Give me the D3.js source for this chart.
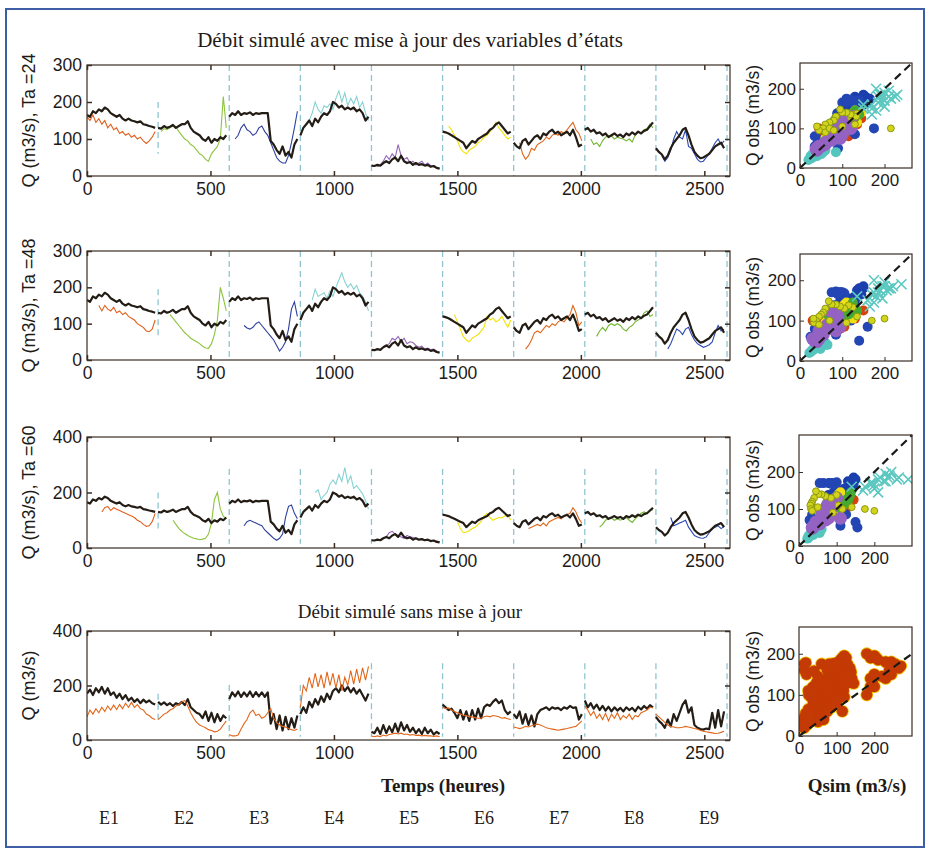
<!DOCTYPE html>
<html>
<head>
<meta charset="utf-8">
<script src="https://cdn.jsdelivr.net/npm/d3@7/dist/d3.min.js"></script>
<style>
  body { margin: 0; background: #fff; }
  svg text { fill: #1e1a16; }
</style>
</head>
<body>
<script>
// --- données : pas de 12 h, 9 épisodes de 288 h (24 valeurs chacun) ---
const eventNames = ["E1", "E2", "E3", "E4", "E5", "E6", "E7", "E8", "E9"];
const stepHours = 12;
const eventLength = 288;
const xTicks = [0, 500, 1000, 1500, 2000, 2500];

// débit observé (trait noir, graphes 1 à 3)
const obsQ = [
  165,160,175,170,180,175,185,180,170,165,160,165,155,150,155,150,148,145,148,140,138,135,133,130,
  130,128,135,130,133,138,130,135,140,140,148,130,120,115,110,100,95,105,90,100,95,105,100,110,
  160,170,165,175,165,170,168,172,165,170,168,170,170,170,95,85,70,60,80,55,65,50,85,100,
  110,130,140,150,135,155,145,160,170,165,175,200,195,185,190,180,185,180,185,175,180,170,150,160,
  28,27,30,28,35,40,35,45,50,40,55,40,35,38,30,35,30,32,28,30,25,27,22,20,
  120,118,115,110,105,100,95,90,75,85,95,90,100,105,110,115,125,130,140,145,135,125,115,120,
  90,80,75,95,100,85,95,105,110,100,115,110,120,125,115,120,110,115,120,110,125,105,80,85,
  125,130,120,125,115,118,110,115,105,110,115,108,112,105,115,110,118,112,120,115,122,125,135,145,
  75,65,58,45,55,75,90,100,110,125,130,110,85,65,55,48,50,55,60,70,80,85,90,75
];

// débit simulé avec mise à jour, Ta = 24 h
const sim24 = [
  160,150,165,145,155,140,150,130,140,125,130,115,120,110,115,105,110,100,105,95,88,95,105,120,
  null,120,128,125,130,135,133,120,110,100,95,85,80,70,60,55,45,40,60,70,80,100,215,130,
  null,null,100,110,130,140,125,120,110,115,130,135,120,110,90,70,50,40,35,35,55,90,130,175,
  null,null,null,150,170,200,180,170,190,185,195,180,210,230,200,225,190,210,195,215,185,200,170,150,
  null,null,25,30,40,55,45,60,50,85,55,45,50,35,40,30,35,40,30,35,28,25,22,20,
  null,null,135,125,110,95,75,65,60,70,75,80,90,95,105,110,120,130,145,130,120,110,100,105,
  null,null,90,60,45,55,75,70,85,90,95,105,100,110,115,110,120,115,125,135,145,125,115,95,
  null,null,100,85,90,80,95,105,110,108,100,105,102,100,95,100,92,110,120,115,125,128,140,130,
  null,null,55,40,50,70,100,120,105,100,125,80,75,60,45,38,40,50,60,75,90,100,85,95
];

// débit simulé avec mise à jour, Ta = 48 h
const sim48 = [
  null,null,null,null,150,135,150,140,135,145,130,135,125,130,120,115,110,100,95,90,80,78,85,110,
  null,null,null,null,125,115,105,95,85,75,68,60,55,50,45,38,33,32,45,70,110,200,170,135,
  null,null,null,null,null,95,88,85,90,100,105,95,85,75,65,55,40,25,35,50,85,140,160,120,
  null,null,null,null,165,195,175,180,185,170,190,175,200,220,240,215,200,210,195,205,185,175,160,135,
  null,null,null,null,35,40,45,60,55,65,50,60,45,50,48,40,35,38,30,33,28,30,25,22,
  null,null,null,null,125,105,85,65,55,50,60,65,70,80,90,120,110,115,105,110,120,105,90,110,
  null,null,null,null,30,40,55,75,80,75,85,95,90,100,95,105,110,105,115,125,150,130,95,105,
  null,null,null,null,65,80,90,80,95,100,95,100,95,85,80,90,95,105,110,115,130,135,120,125,
  null,null,null,null,30,45,65,85,80,70,85,90,70,55,45,40,35,38,42,50,75,95,80,85
];

// débit simulé avec mise à jour, Ta = 60 h
const sim60 = [
  null,null,null,null,null,130,145,150,135,145,140,135,130,125,120,115,110,100,95,85,78,80,95,125,
  null,null,null,null,null,100,85,70,60,52,45,40,35,33,30,32,35,50,90,175,200,140,115,105,
  null,null,null,null,null,80,95,100,95,90,85,80,65,55,45,35,28,35,50,110,150,155,125,105,
  null,null,null,null,null,200,210,175,190,200,230,245,230,265,240,290,235,260,215,225,210,195,170,140,
  null,null,null,null,null,40,55,60,50,45,40,35,45,40,38,35,30,32,28,30,27,25,25,22,
  null,null,null,null,null,95,70,55,58,62,70,75,85,95,115,125,110,100,105,110,108,115,120,100,
  null,null,null,null,null,70,75,80,85,80,90,80,95,100,105,110,105,115,120,125,145,130,105,90,
  null,null,null,null,null,75,85,100,105,108,100,105,100,105,110,100,92,105,115,125,130,125,135,138,
  null,null,null,null,null,110,80,85,90,95,100,75,60,45,40,36,35,40,55,70,75,80,70,78
];

// graphe 4 : trait noir et débit simulé sans mise à jour (orange)
const obsQ4 = [
  170,185,165,190,175,195,170,190,165,175,155,170,150,165,145,155,140,150,135,148,138,145,135,130,
  140,130,138,128,135,125,135,130,140,128,150,120,110,100,95,80,105,70,100,65,95,70,90,80,
  150,175,160,178,158,175,160,178,158,176,160,175,158,175,60,95,40,90,35,85,40,80,45,90,
  95,120,100,140,120,150,130,160,140,170,150,180,190,175,200,180,195,175,190,170,185,165,145,170,
  30,25,45,22,55,25,50,28,60,30,65,35,55,30,45,25,40,22,45,25,38,20,30,22,
  130,120,110,115,100,80,110,75,105,70,110,75,115,80,120,130,125,140,150,135,145,110,95,105,
  95,80,105,60,95,55,90,50,95,110,115,120,110,120,115,118,110,120,115,125,118,120,75,95,
  145,120,135,115,130,110,125,108,122,105,120,108,118,105,120,110,118,105,122,112,125,115,128,120,
  85,70,60,45,75,50,95,70,100,130,145,100,120,55,45,40,38,42,40,100,45,110,50,105
];
const simNoUpdate = [
  85,110,95,115,100,120,105,125,110,128,112,130,115,135,120,138,120,130,115,110,95,90,80,75,
  75,85,95,100,110,115,125,130,140,145,125,100,80,65,55,50,45,38,35,30,32,40,55,70,
  20,15,15,18,40,60,75,100,110,90,95,80,85,100,115,80,65,55,50,48,42,38,35,40,
  120,200,180,230,190,245,195,240,190,250,200,245,190,240,180,230,200,255,205,260,210,265,220,270,
  15,12,15,12,18,15,20,22,25,22,25,20,22,18,20,17,18,15,17,15,15,13,15,12,
  120,115,118,110,105,100,95,92,90,85,85,82,80,80,85,88,85,90,88,85,80,82,78,75,
  48,45,42,45,50,48,52,55,58,55,50,45,42,40,38,36,38,40,42,45,48,50,60,70,
  125,110,90,105,80,95,75,98,70,95,80,100,75,90,80,95,75,90,85,100,105,110,120,118,
  95,85,75,65,55,50,48,45,45,47,50,48,45,42,40,35,32,30,28,26,24,25,28,32
];

// couleurs par épisode (séries temporelles et nuages de points)
const lineColors = ["#e2601e", "#8cc43c", "#2f3f9e", "#86d2d2", "#9466ba", "#f2e200", "#e0661c", "#72b832", "#2a48b6"];
const dotColors  = ["#1c3fae", "#d2d41c", "#2446b4", "#5cc8c0", "#54c6be", "#f0e010", "#d8420e", "#44aa30", "#9462c2"];
const dotRadius  = [5, 3.4, 5, 5, 5, 5, 5, 5, 6.5];
const drawOrder  = [6, 0, 2, 5, 7, 4, 8, 1, 3];

// --- mise en page ---
const W = 931, H = 851;
const svg = d3.select("body").append("svg").attr("width", W).attr("height", H);
const sans = "'Liberation Sans', Arial, Helvetica, sans-serif";
const serif = "'Liberation Serif', 'Times New Roman', serif";

svg.append("rect").attr("x", 6).attr("y", 9).attr("width", 918).attr("height", 838)
  .attr("fill", "none").attr("stroke", "#3d5ea6").attr("stroke-width", 2);

const x = d3.scaleLinear().domain([0, 2604]).range([87, 730]);

const panels = [
  { top: 65,  bot: 176, ymax: 300, yt: [0, 100, 200, 300], label: "Q (m3/s), Ta =24", obs: obsQ,  sim: sim24,
    dash: [[60, 200], [0, 300], [0, 300], [0, 300], [0, 300], [0, 300], [0, 300], [0, 300], [0, 300]] },
  { top: 251, bot: 360, ymax: 300, yt: [0, 100, 200, 300], label: "Q (m3/s), Ta =48", obs: obsQ,  sim: sim48,
    dash: [[60, 195], [0, 300], [0, 300], [0, 300], [0, 300], [0, 300], [0, 300], [0, 300], [0, 300]] },
  { top: 437, bot: 548, ymax: 400, yt: [0, 200, 400], label: "Q (m3/s), Ta =60", obs: obsQ,  sim: sim60,
    dash: [[67, 200], [15, 285], [15, 285], [15, 285], [15, 285], [15, 285], [15, 285], [15, 285], [15, 285]] },
  { top: 631, bot: 740, ymax: 400, yt: [0, 200, 400], label: "Q (m3/s)", obs: obsQ4, sim: simNoUpdate,
    dash: [[61, 170], [12, 202], [12, 202], [12, 282], [12, 282], [12, 282], [12, 282], [12, 282], [12, 282]] }
];

const scatters = [
  { x0: 800, x1: 912, y0: 63,  y1: 168, xmax: 265, ymax: 265, diag: [265, 265] },
  { x0: 800, x1: 912, y0: 254, y1: 361, xmax: 265, ymax: 265, diag: [265, 265] },
  { x0: 799, x1: 912, y0: 435, y1: 546, xmax: 300, ymax: 300, diag: [300, 300] },
  { x0: 799, x1: 912, y0: 627, y1: 736, xmax: 300, ymax: 265, diag: [300, 200] }
];

function eventPoints(arr, k) {
  return arr.slice(k * 24, k * 24 + 24).map((v, i) => ({ t: k * eventLength + i * stepHours, v: v }));
}

panels.forEach((p, pi) => {
  const y = d3.scaleLinear().domain([0, p.ymax]).range([p.bot, p.top]);
  const g = svg.append("g");
  const clipId = "clip" + pi;
  svg.append("clipPath").attr("id", clipId).append("rect")
    .attr("x", 87).attr("y", p.top).attr("width", 643).attr("height", p.bot - p.top);

  // limites des épisodes
  g.selectAll("line.ev").data(d3.range(1, 10)).join("line")
    .attr("x1", k => x(k * eventLength)).attr("x2", k => x(k * eventLength))
    .attr("y1", k => y(p.dash[k - 1][1])).attr("y2", k => y(p.dash[k - 1][0]))
    .attr("stroke", "#8fc4d0").attr("stroke-width", 1.3).attr("stroke-dasharray", "6,4");

  const line = d3.line().defined(d => d.v != null).x(d => x(d.t)).y(d => y(d.v));
  const lines = g.append("g").attr("clip-path", `url(#${clipId})`);

  // série simulée en couleur, puis série noire
  if (pi < 3) {
    eventNames.forEach((e, k) => {
      lines.append("path").attr("d", line(eventPoints(p.sim, k)))
        .attr("fill", "none").attr("stroke", lineColors[k]).attr("stroke-width", 1.1);
    });
  }
  eventNames.forEach((e, k) => {
    lines.append("path").attr("d", line(eventPoints(p.obs, k)))
      .attr("fill", "none").attr("stroke", "#241d16").attr("stroke-width", 2.2).attr("stroke-linejoin", "round");
  });
  if (pi === 3) {
    eventNames.forEach((e, k) => {
      lines.append("path").attr("d", line(eventPoints(p.sim, k)))
        .attr("fill", "none").attr("stroke", "#e2661a").attr("stroke-width", 1.1);
    });
  }

  // cadre et graduations (style MATLAB, vers l'intérieur)
  g.append("rect").attr("x", 87).attr("y", p.top).attr("width", 643).attr("height", p.bot - p.top)
    .attr("fill", "none").attr("stroke", "#3a2e24").attr("stroke-width", 1.2);
  const gb = g.append("g").attr("transform", `translate(0,${p.bot})`)
    .call(d3.axisBottom(x).tickValues(xTicks).tickSize(-5).tickPadding(7).tickFormat(d3.format("d")));
  const gt = g.append("g").attr("transform", `translate(0,${p.top})`)
    .call(d3.axisTop(x).tickValues(xTicks).tickSize(-5).tickFormat(""));
  const gl = g.append("g").attr("transform", "translate(87,0)")
    .call(d3.axisLeft(y).tickValues(p.yt).tickSize(-5).tickPadding(5));
  const gr = g.append("g").attr("transform", "translate(730,0)")
    .call(d3.axisRight(y).tickValues(p.yt).tickSize(-5).tickFormat(""));
  [gb, gt, gl, gr].forEach(a => {
    a.select(".domain").remove();
    a.selectAll(".tick line").attr("stroke", "#3a2e24").attr("stroke-width", 1.5);
    a.selectAll("text").attr("font-family", sans).attr("font-size", 17.5).attr("fill", "#1e1a16");
  });
  g.append("text").attr("transform", `translate(35,${(p.top + p.bot) / 2}) rotate(-90)`)
    .attr("text-anchor", "middle").attr("font-family", sans).attr("font-size", 18).text(p.label);
});

// --- nuages de points Qsim / Qobs ---
scatters.forEach((s, si) => {
  const p = panels[si];
  const sx = d3.scaleLinear().domain([0, s.xmax]).range([s.x0, s.x1]);
  const sy = d3.scaleLinear().domain([0, s.ymax]).range([s.y1, s.y0]);
  const g = svg.append("g");
  const clipId = "sclip" + si;
  svg.append("clipPath").attr("id", clipId).append("rect")
    .attr("x", s.x0).attr("y", s.y0).attr("width", s.x1 - s.x0).attr("height", s.y1 - s.y0);
  const pts = g.append("g").attr("clip-path", `url(#${clipId})`);

  const pairs = [];
  p.sim.forEach((v, i) => {
    if (v != null && p.obs[i] != null) pairs.push({ k: Math.floor(i / 24), qs: v, qo: p.obs[i] });
  });

  if (si < 3) {
    drawOrder.forEach(k => {
      const sel = pairs.filter(d => d.k === k);
      const r = dotRadius[k];
      if (k === 3) {
        pts.selectAll(null).data(sel).join("path")
          .attr("d", d => `M${sx(d.qs) - r},${sy(d.qo) - r}L${sx(d.qs) + r},${sy(d.qo) + r}M${sx(d.qs) - r},${sy(d.qo) + r}L${sx(d.qs) + r},${sy(d.qo) - r}`)
          .attr("stroke", dotColors[k]).attr("stroke-width", 1.6).attr("fill", "none");
      } else if (k === 1) {
        pts.selectAll(null).data(sel).join("circle")
          .attr("cx", d => sx(d.qs)).attr("cy", d => sy(d.qo)).attr("r", r)
          .attr("fill", dotColors[k]).attr("stroke", "#8e9a12").attr("stroke-width", 1);
      } else {
        pts.selectAll(null).data(sel).join("circle")
          .attr("cx", d => sx(d.qs)).attr("cy", d => sy(d.qo)).attr("r", r)
          .attr("fill", dotColors[k]);
      }
    });
  } else {
    pts.selectAll(null).data(pairs).join("circle")
      .attr("cx", d => sx(d.qs)).attr("cy", d => sy(d.qo)).attr("r", 6.4)
      .attr("fill", "#f2c400");
    pts.selectAll(null).data(pairs).join("circle")
      .attr("cx", d => sx(d.qs)).attr("cy", d => sy(d.qo)).attr("r", 5.6)
      .attr("fill", "#c43a04");
  }

  // diagonale
  g.append("line").attr("x1", sx(0)).attr("y1", sy(0)).attr("x2", sx(s.diag[0])).attr("y2", sy(s.diag[1]))
    .attr("stroke", "#1a1a1a").attr("stroke-width", 2.2).attr("stroke-dasharray", "8,5");

  g.append("rect").attr("x", s.x0).attr("y", s.y0).attr("width", s.x1 - s.x0).attr("height", s.y1 - s.y0)
    .attr("fill", "none").attr("stroke", "#3a2e24").attr("stroke-width", 1.2);
  const st = [0, 100, 200];
  const ab = g.append("g").attr("transform", `translate(0,${s.y1})`)
    .call(d3.axisBottom(sx).tickValues(st).tickSize(-4).tickPadding(6));
  const al = g.append("g").attr("transform", `translate(${s.x0},0)`)
    .call(d3.axisLeft(sy).tickValues(st).tickSize(-4).tickPadding(4));
  [ab, al].forEach(a => {
    a.select(".domain").remove();
    a.selectAll(".tick line").attr("stroke", "#3a2e24");
    a.selectAll("text").attr("font-family", sans).attr("font-size", 17).attr("fill", "#1e1a16");
  });
  g.append("text").attr("transform", `translate(759,${(s.y0 + s.y1) / 2}) rotate(-90)`)
    .attr("text-anchor", "middle").attr("font-family", sans).attr("font-size", 17.5).text("Q obs (m3/s)");
});

// --- titres et légendes ---
svg.append("text").attr("x", 410).attr("y", 47).attr("text-anchor", "middle")
  .attr("font-family", serif).attr("font-size", 21).text("Débit simulé avec mise à jour des variables d’états");
svg.append("text").attr("x", 410).attr("y", 618).attr("text-anchor", "middle")
  .attr("font-family", serif).attr("font-size", 19).text("Débit simulé sans mise à jour");
svg.append("text").attr("x", 443).attr("y", 792).attr("text-anchor", "middle")
  .attr("font-family", serif).attr("font-size", 19).attr("font-weight", "bold").text("Temps (heures)");
svg.append("text").attr("x", 857).attr("y", 792).attr("text-anchor", "middle")
  .attr("font-family", serif).attr("font-size", 19).attr("font-weight", "bold").text("Qsim (m3/s)");
svg.append("g").selectAll("text").data(eventNames).join("text")
  .attr("x", (d, i) => 109 + i * 75).attr("y", 824).attr("text-anchor", "middle")
  .attr("font-family", serif).attr("font-size", 18).text(d => d);
</script>
</body>
</html>
